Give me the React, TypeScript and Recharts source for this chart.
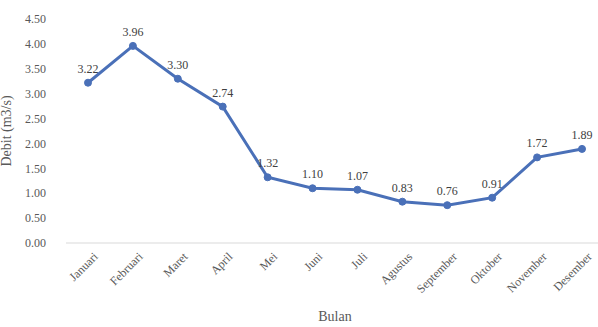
import React from "react";
import { LineChart, Line, XAxis, YAxis, LabelList, Label } from "recharts";

const months = [
  "Januari",
  "Februari",
  "Maret",
  "April",
  "Mei",
  "Juni",
  "Juli",
  "Agustus",
  "September",
  "Oktober",
  "November",
  "Desember",
];
const debit = [3.22, 3.96, 3.3, 2.74, 1.32, 1.1, 1.07, 0.83, 0.76, 0.91, 1.72, 1.89];
const yTicks = [0, 0.5, 1, 1.5, 2, 2.5, 3, 3.5, 4, 4.5];

const data = months.map((m, i) => ({ bulan: m, debit: debit[i] }));

const font = "'Liberation Serif', 'Times New Roman', serif";

function MonthTick({ x, y, payload }: any) {
  return (
    <text
      x={x}
      y={y}
      dy={12}
      dx={3}
      transform={`rotate(-45, ${x}, ${y})`}
      textAnchor="end"
      fontFamily={font}
      fontSize={12}
      fill="#595959"
    >
      {payload.value}
    </text>
  );
}

export default function App() {
  return (
    <div style={{ position: "absolute", left: 0, top: 0, width: 598, height: 327, overflow: "hidden", background: "#fff" }}>
      <LineChart
        width={606}
        height={327}
        data={data}
        margin={{ top: 19, right: 2, bottom: 0, left: 0 }}
      >
        <XAxis
          dataKey="bulan"
          interval={0}
          tickLine={false}
          padding={{ left: 22, right: 22 }}
          axisLine={{ stroke: "#d9d9d9", strokeWidth: 1 }}
          tick={<MonthTick />}
          height={84}
        >
          <Label
            value="Bulan"
            position="insideBottom"
            offset={6}
            style={{ fontFamily: font, fontSize: 14, fill: "#595959" }}
          />
        </XAxis>
        <YAxis
          domain={[0, 4.5]}
          ticks={yTicks}
          interval={0}
          width={66}
          axisLine={false}
          tickLine={false}
          tickMargin={14}
          tickFormatter={(v: number) => v.toFixed(2)}
          tick={{ fontFamily: font, fontSize: 12, fill: "#595959" }}
        >
          <Label
            value="Debit (m3/s)"
            angle={-90}
            position="insideLeft"
            offset={6}
            style={{ fontFamily: font, fontSize: 14, fill: "#595959", textAnchor: "middle" }}
          />
        </YAxis>
        <Line
          type="linear"
          dataKey="debit"
          stroke="#4a70b8"
          strokeWidth={3}
          dot={{ r: 3.5, fill: "#4a70b8", stroke: "#4a70b8", strokeWidth: 1 }}
          isAnimationActive={false}
        >
          <LabelList
            dataKey="debit"
            position="top"
            offset={10}
            formatter={(v: any) => Number(v).toFixed(2)}
            style={{ fontFamily: font, fontSize: 12, fill: "#404040" }}
          />
        </Line>
      </LineChart>
    </div>
  );
}
